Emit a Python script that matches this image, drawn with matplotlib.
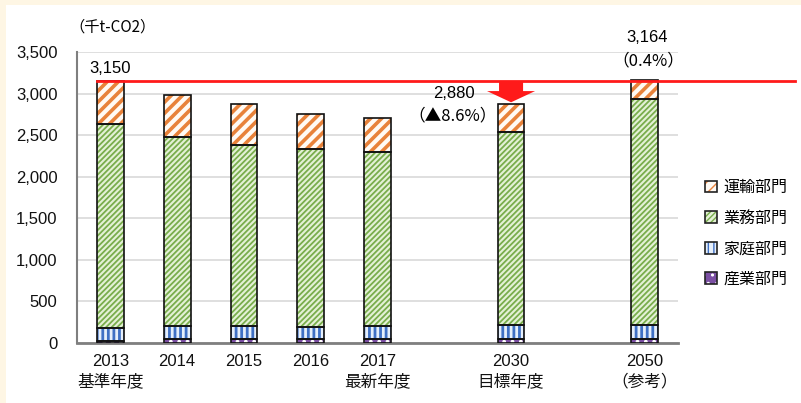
import matplotlib.pyplot as plt
from matplotlib.patches import Patch, Rectangle, FancyArrow
from matplotlib.legend_handler import HandlerTuple

plt.rcParams["font.family"] = ["Liberation Sans", "Noto Sans CJK JP", "DejaVu Sans"]
JP = ["Noto Sans CJK JP", "DejaVu Sans"]

# data (千t-CO2)
years = ["2013\n基準年度", "2014", "2015", "2016", "2017\n最新年度", "2030\n目標年度", "2050\n（参考）"]
xpos = [0, 1, 2, 3, 4, 6, 8]
industry = [20, 45, 45, 45, 50, 50, 45]
household = [155, 155, 155, 150, 160, 165, 170]
commercial = [2465, 2280, 2185, 2135, 2085, 2320, 2715]
transport = [510, 500, 485, 430, 415, 345, 234]
base_value = 3150

# name, values, face, hatch colour, hatch, hatch linewidth
series = [
    ("産業部門", industry, "#7b4fa3", "#ffffff", "..", 1.5),
    ("家庭部門", household, "#e6effa", "#3f70c4", "|||", 2.0),
    ("業務部門", commercial, "#e4f1d6", "#79ad4c", "//////", 1.3),
    ("運輸部門", transport, "#fffaf4", "#e8823a", "///", 2.6),
]

fig = plt.figure(figsize=(8.01, 4.03), dpi=100, facecolor="#fef6e4")
fig.patches.append(Rectangle((6 / 801, 0), 1, 1 - 5 / 403, transform=fig.transFigure,
                             facecolor="white", edgecolor="none", zorder=-10))
ax = fig.add_axes([77 / 801, 1 - 343 / 403, (678 - 77) / 801, (343 - 52) / 403])
ax.set_facecolor("white")

w = 0.4
bottom = [0] * len(xpos)
handles = []
for name, vals, face, hcol, hatch, hlw in series:
    with plt.rc_context({"hatch.linewidth": hlw}):
        ax.bar(xpos, vals, w, bottom=bottom, color=face, edgecolor=hcol, hatch=hatch,
               linewidth=0, zorder=3)
        h1 = Patch(facecolor=face, edgecolor=hcol, hatch=hatch, linewidth=0)
    ax.bar(xpos, vals, w, bottom=bottom, fill=False, edgecolor="#111111",
           linewidth=1.2, zorder=4)
    bottom = [b + v for b, v in zip(bottom, vals)]
    h2 = Patch(fill=False, edgecolor="#222222", linewidth=1.2)
    handles.append(((h1, h2), name))

handles = handles[::-1]
leg = ax.legend([h for h, n in handles], [n for h, n in handles],
                handler_map={tuple: HandlerTuple(ndivide=1, pad=0)},
                loc="upper left", bbox_to_anchor=(1.035, 0.585), frameon=False,
                prop={"family": JP, "size": 11.5}, handlelength=0.75,
                handleheight=0.75, handletextpad=0.35,
                labelspacing=0.85, borderaxespad=0)

ax.set_xlim(-0.5, 8.5)
ax.set_ylim(0, 3500)
ax.set_yticks(range(0, 3501, 500))
ax.set_yticklabels([f"{v:,}" for v in range(0, 3501, 500)])
ax.set_xticks(xpos)
ax.set_xticklabels(years, linespacing=1.35, va="top")
ax.tick_params(axis="both", length=0, labelsize=12, colors="#111111")
ax.tick_params(axis="y", pad=14)
ax.tick_params(axis="x", pad=8)
ax.grid(axis="y", color="#d9d9d9", linewidth=1.2, zorder=0)
ax.set_axisbelow(True)
for s in ["top", "right"]:
    ax.spines[s].set_visible(False)
ax.spines["left"].set_color("#7f7f7f")
ax.spines["left"].set_linewidth(1.5)
ax.spines["bottom"].set_color("#7f7f7f")
ax.spines["bottom"].set_linewidth(2.0)

# base year line and reduction arrow
ax.plot([-0.2, 10.25], [base_value, base_value], color="#ff1a1a", linewidth=2,
        clip_on=False, zorder=5)
ax.add_patch(FancyArrow(6, base_value, 0, -255, width=0.36, head_width=0.72,
                        head_length=135, length_includes_head=True,
                        color="#ff1a1a", linewidth=0, zorder=6))

ax.text(0, 3302, "3,150", ha="center", va="center", fontsize=12)
ax.text(5.15, 2996, "2,880", ha="center", va="center", fontsize=12)
ax.text(5.13, 2731, "（▲8.6%）", ha="center", va="center", fontsize=12, family=JP)
ax.text(8.03, 3670, "3,164", ha="center", va="center", fontsize=12, clip_on=False)
ax.text(8.05, 3393, "（0.4%）", ha="center", va="center", fontsize=12, family=JP)
fig.text(112 / 801, 1 - 27.5 / 403, "（千t-CO2）", ha="center", va="center",
         fontsize=11, family=JP)

fig.savefig("out.png", dpi=100, facecolor=fig.get_facecolor())
